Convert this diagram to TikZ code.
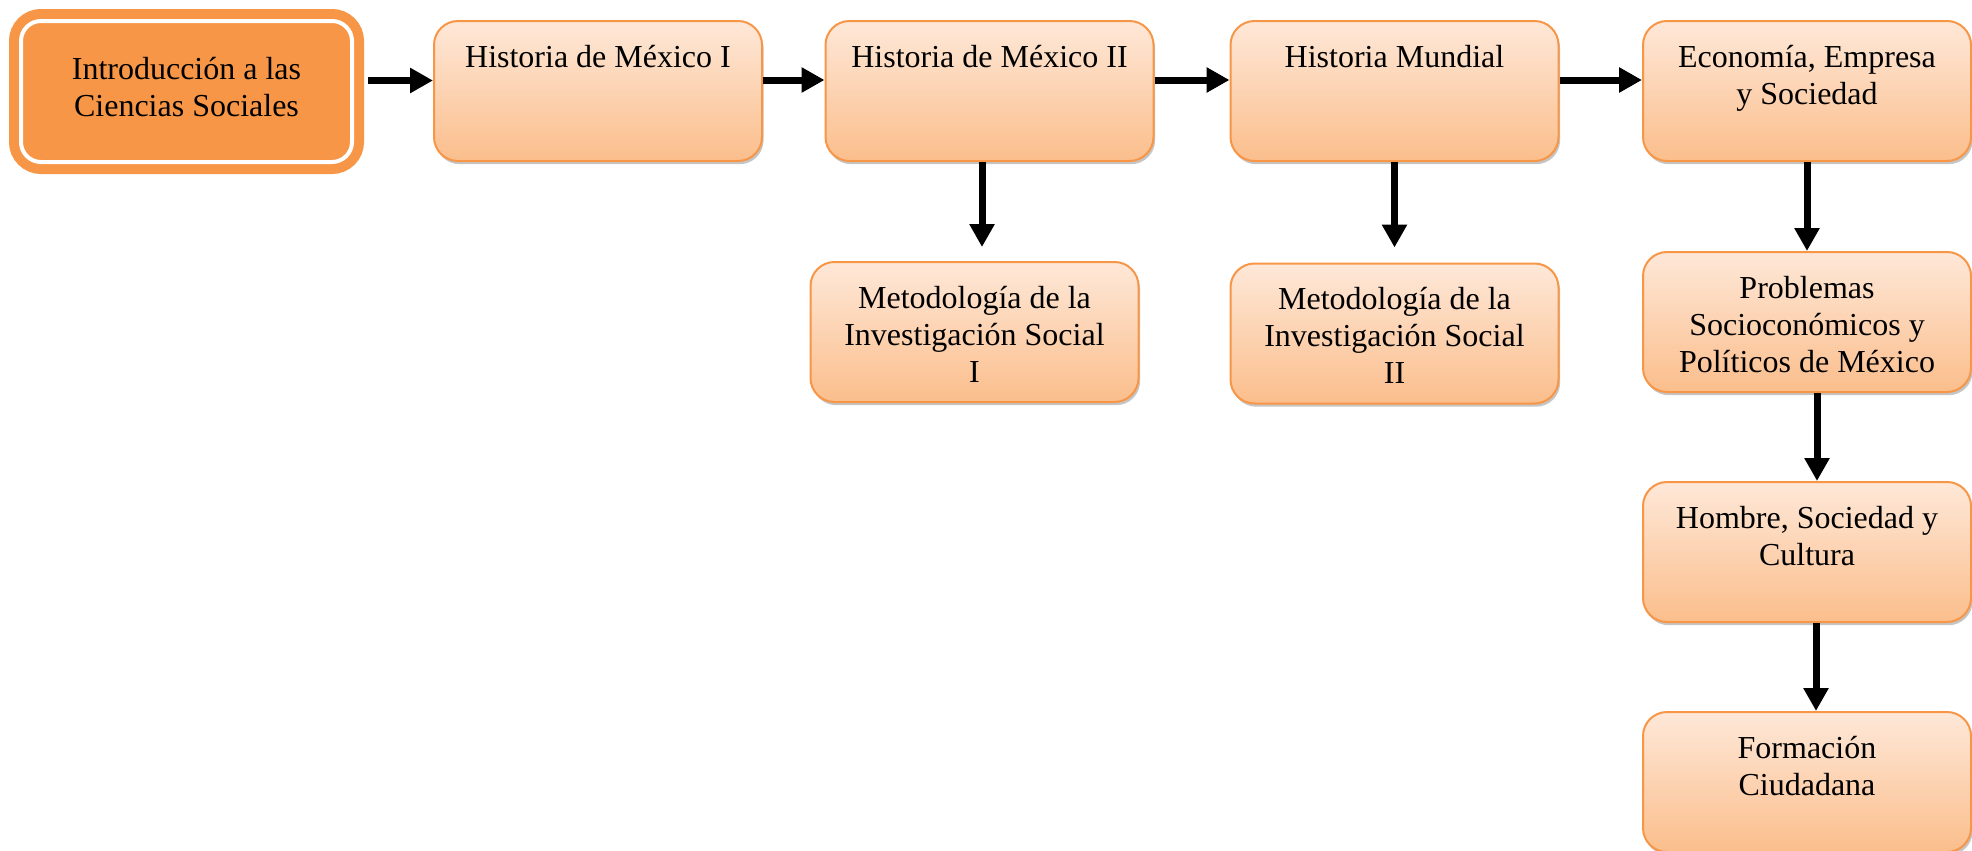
\documentclass[tikz,border=0pt]{standalone}
\usepackage{fontspec}
\setmainfont{Liberation Serif}
\usetikzlibrary{arrows.meta, shadows}
\usepackage{xcolor}
\definecolor{naranja}{HTML}{F79646}
\definecolor{durazno}{HTML}{FEE8D8}
\definecolor{melon}{HTML}{FBBE8C}

\begin{document}
\begin{tikzpicture}[x=0.5pt, y=-0.5pt,
	every node/.style={font=\fontsize{16}{18.5}\selectfont},
	materia/.style={draw=naranja, line width=1pt, rounded corners=12pt, top color=durazno, bottom color=melon,
		drop shadow={shadow xshift=0.8pt, shadow yshift=-1.6pt, fill=black!45},
		text width=140pt, align=flush center, inner xsep=12pt, inner ysep=4pt, text height=19pt, text depth=43pt},
	inicio/.style={draw=naranja, fill=naranja, line width=5pt, double=white, double distance=2pt, rounded corners=10pt,
		text width=140pt, align=flush center, inner xsep=12.75pt, inner ysep=4pt, text height=25pt, text depth=37.5pt},
	flecha/.style={line width=3.5pt, -{Triangle[length=11.5pt, width=12pt]}}]

	\useasboundingbox (0,0) rectangle (1972,851);

	\node[inicio] (intro) at (186.5, 91.5) {Introducción a las\\Ciencias Sociales};

	\node[materia] (hist1) at (598, 91) {Historia de México I};
	\node[materia] (hist2) at (989.5, 91) {Historia de México II};
	\node[materia] (histmun) at (1394.5, 91) {Historia Mundial};
	\node[materia] (econ) at (1807, 91) {Economía, Empresa\\y Sociedad};

	\node[materia] (metod1) at (974.5, 332) {Metodología de la\\Investigación Social\\I};
	\node[materia] (metod2) at (1394.5, 333.5) {Metodología de la\\Investigación Social\\II};

	\node[materia] (probl) at (1807, 322) {Problemas\\Socioconómicos y\\Políticos de México};
	\node[materia] (hombre) at (1807, 552) {Hombre, Sociedad y\\Cultura};
	\node[materia] (formac) at (1807, 782) {Formación\\Ciudadana};

	\draw[flecha, shorten <=5.5pt] ([yshift=5.5pt]intro.east) -- ([yshift=5.5pt]intro.east -| hist1.west);
	\draw[flecha] ([yshift=5.5pt]hist1.east) -- ([yshift=5.5pt]hist2.west);
	\draw[flecha] ([yshift=5.5pt]hist2.east) -- ([yshift=5.5pt]histmun.west);
	\draw[flecha] ([yshift=5.5pt]histmun.east) -- ([yshift=5.5pt]econ.west);

	\draw[flecha, shorten >=7pt] ([xshift=-3.75pt]hist2.south) -- ([xshift=-3.75pt]hist2.south |- metod1.north);
	\draw[flecha, shorten >=7.5pt] (histmun.south) -- (histmun.south |- metod2.north);

	\draw[flecha] (econ.south) -- (probl.north);
	\draw[flecha] ([xshift=5pt]probl.south) -- ([xshift=5pt]hombre.north);
	\draw[flecha] ([xshift=4.5pt]hombre.south) -- ([xshift=4.5pt]formac.north);
\end{tikzpicture}
\end{document}
